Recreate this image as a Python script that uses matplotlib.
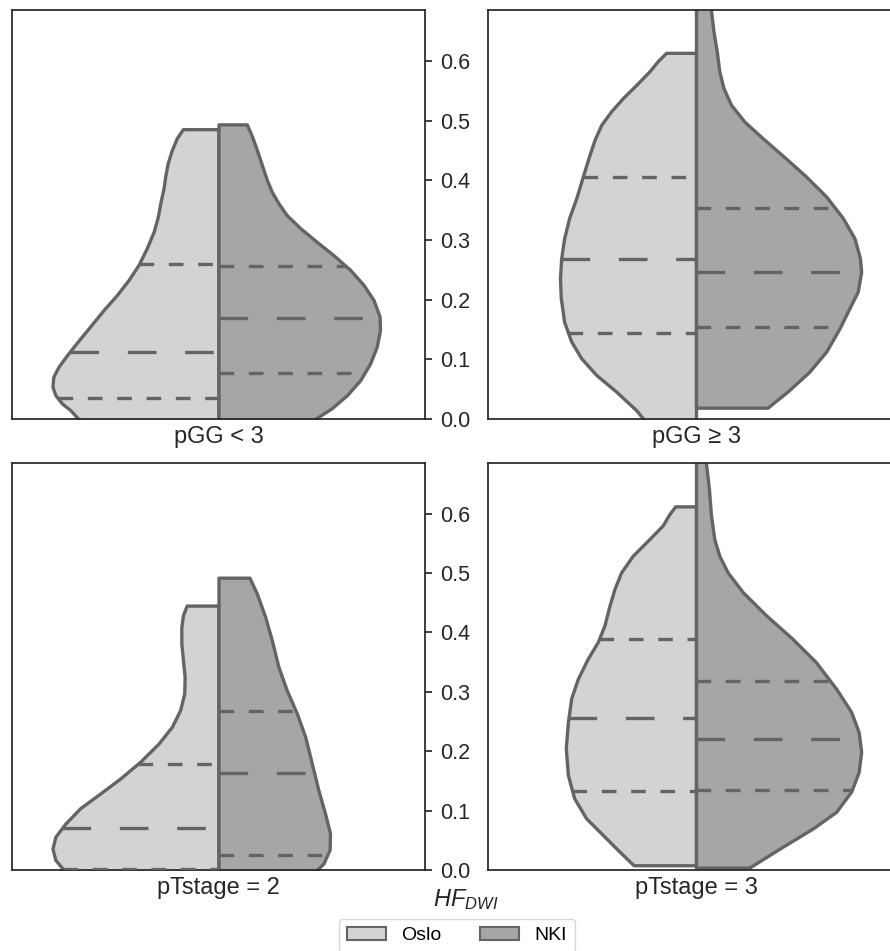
import matplotlib
matplotlib.use('Agg')
import matplotlib.pyplot as plt
from matplotlib.patches import Patch
import numpy as np

plt.rcParams['font.family'] = ['Liberation Sans', 'DejaVu Sans']
plt.rcParams['mathtext.fontset'] = 'custom'
plt.rcParams['mathtext.rm'] = 'Liberation Sans'
plt.rcParams['mathtext.it'] = 'Liberation Sans:italic'

# ---------------- data ----------------
groups = ['Oslo', 'NKI']
panel_labels = ['pGG < 3', 'pGG \u2265 3', 'pTstage = 2', 'pTstage = 3']
y_ticks = [0.0, 0.1, 0.2, 0.3, 0.4, 0.5, 0.6]
y_tick_labels = ['0.0', '0.1', '0.2', '0.3', '0.4', '0.5', '0.6']

# violin profiles: HF_DWI level and half-width of the density
tl_oslo_y = [-0.03, 0.0, 0.015, 0.026, 0.040, 0.054, 0.071, 0.088, 0.107, 0.128, 0.155, 0.183, 0.208, 0.233,
             0.258, 0.286, 0.314, 0.339, 0.365, 0.387, 0.407, 0.429, 0.451, 0.471, 0.486]
tl_oslo_w = [0.290, 0.339, 0.359, 0.379, 0.395, 0.402, 0.400, 0.387, 0.367, 0.343, 0.311, 0.278, 0.246, 0.218,
             0.194, 0.174, 0.157, 0.147, 0.140, 0.133, 0.129, 0.123, 0.113, 0.101, 0.0864]
tl_nki_y = [-0.03, 0.0, 0.018, 0.040, 0.065, 0.093, 0.121, 0.149, 0.172, 0.200, 0.225, 0.250, 0.275, 0.297,
            0.320, 0.342, 0.362, 0.381, 0.401, 0.426, 0.451, 0.474, 0.494]
tl_nki_w = [0.170, 0.234, 0.274, 0.311, 0.343, 0.367, 0.383, 0.391, 0.390, 0.375, 0.351, 0.319, 0.278, 0.238,
            0.198, 0.165, 0.145, 0.129, 0.117, 0.105, 0.093, 0.081, 0.0686]
tl_oslo_q = [0.035, 0.113, 0.260]
tl_nki_q = [0.077, 0.170, 0.257]

tr_oslo_y = [-0.03, -0.002, 0.015, 0.046, 0.074, 0.102, 0.130, 0.163, 0.203, 0.236, 0.270, 0.303, 0.337,
             0.370, 0.409, 0.443, 0.468, 0.493, 0.516, 0.538, 0.560, 0.583, 0.600, 0.614]
tr_oslo_w = [0.090, 0.124, 0.144, 0.192, 0.240, 0.276, 0.300, 0.317, 0.325, 0.327, 0.324, 0.317, 0.305,
             0.288, 0.271, 0.256, 0.244, 0.228, 0.204, 0.176, 0.144, 0.112, 0.092, 0.072]
tr_nki_y = [0.019, 0.046, 0.079, 0.113, 0.152, 0.186, 0.214, 0.247, 0.270, 0.303, 0.337, 0.373, 0.407,
            0.437, 0.471, 0.499, 0.527, 0.555, 0.583, 0.616, 0.650, 0.685, 0.730]
tr_nki_w = [0.172, 0.220, 0.272, 0.313, 0.345, 0.369, 0.389, 0.397, 0.394, 0.381, 0.353, 0.313, 0.264,
            0.216, 0.160, 0.116, 0.084, 0.066, 0.056, 0.050, 0.042, 0.036, 0.030]
tr_oslo_q = [0.145, 0.268, 0.406]
tr_nki_q = [0.155, 0.246, 0.353]

bl_oslo_y = [-0.03, -0.003, 0.017, 0.036, 0.056, 0.078, 0.104, 0.129, 0.154, 0.182, 0.213, 0.241, 0.269,
             0.297, 0.325, 0.353, 0.381, 0.409, 0.429, 0.445]
bl_oslo_w = [0.310, 0.371, 0.395, 0.402, 0.395, 0.371, 0.335, 0.286, 0.238, 0.190, 0.145, 0.113, 0.093,
             0.083, 0.082, 0.086, 0.090, 0.090, 0.086, 0.077]
bl_nki_y = [-0.03, -0.003, 0.011, 0.034, 0.062, 0.095, 0.134, 0.179, 0.224, 0.263, 0.303, 0.342, 0.387,
            0.426, 0.465, 0.492]
bl_nki_w = [0.210, 0.234, 0.254, 0.269, 0.270, 0.258, 0.242, 0.226, 0.210, 0.190, 0.165, 0.145, 0.129,
            0.113, 0.093, 0.075]
bl_oslo_q = [0.002, 0.070, 0.179]
bl_nki_q = [0.026, 0.164, 0.267]

br_oslo_y = [0.008, 0.031, 0.059, 0.087, 0.121, 0.160, 0.205, 0.249, 0.289, 0.322, 0.356, 0.384, 0.412,
             0.445, 0.473, 0.501, 0.529, 0.557, 0.580, 0.599, 0.612]
br_oslo_w = [0.150, 0.184, 0.224, 0.264, 0.293, 0.308, 0.313, 0.308, 0.300, 0.284, 0.260, 0.236, 0.220,
             0.208, 0.196, 0.180, 0.152, 0.112, 0.080, 0.064, 0.050]
br_nki_y = [0.004, 0.039, 0.070, 0.098, 0.132, 0.165, 0.199, 0.232, 0.266, 0.305, 0.350, 0.389, 0.429,
            0.468, 0.501, 0.529, 0.557, 0.597, 0.642, 0.684, 0.730]
br_nki_w = [0.128, 0.208, 0.281, 0.337, 0.373, 0.391, 0.397, 0.391, 0.373, 0.337, 0.288, 0.232, 0.168,
            0.112, 0.076, 0.056, 0.044, 0.036, 0.031, 0.024, 0.020]
br_oslo_q = [0.133, 0.255, 0.388]
br_nki_q = [0.134, 0.220, 0.318]

panels = [
    (tl_oslo_y, tl_oslo_w, tl_oslo_q, tl_nki_y, tl_nki_w, tl_nki_q),
    (tr_oslo_y, tr_oslo_w, tr_oslo_q, tr_nki_y, tr_nki_w, tr_nki_q),
    (bl_oslo_y, bl_oslo_w, bl_oslo_q, bl_nki_y, bl_nki_w, bl_nki_q),
    (br_oslo_y, br_oslo_w, br_oslo_q, br_nki_y, br_nki_w, br_nki_q),
]

# ---------------- style ----------------
OSLO_C = '#d3d3d3'
NKI_C = '#a6a6a6'
LINE_C = '#646464'
SPINE_C = '#262626'
LW = 2.4
Q_DASH = (4.4, 4.4)
MED_DASH = (8.6, 8.6)
YMAX = 0.685

W, H = 890, 951
fig = plt.figure(figsize=(W / 100, H / 100), dpi=100)

def px_axes(x0, x1, ytop, ybot):
    return fig.add_axes([x0 / W, 1 - ybot / H, (x1 - x0) / W, (ybot - ytop) / H])

axes = [
    px_axes(12, 425, 10.5, 419),
    px_axes(488, 904, 10.5, 419),
    px_axes(12, 425, 463, 870),
    px_axes(488, 904, 463, 870),
]

def draw_half(ax, y, w, q, side, color):
    y = np.asarray(y)
    w = np.asarray(w)
    ax.fill_betweenx(y, side * w, 0, facecolor=color, edgecolor=LINE_C,
                     linewidth=LW, joinstyle='round', zorder=2)
    for i, val in enumerate(q):
        half = np.interp(val, y, w)
        dash = MED_DASH if i == 1 else Q_DASH
        xs = [-half, 0] if side < 0 else [0, half]
        ax.plot(xs, [val, val], color=LINE_C, linewidth=LW, dashes=dash,
                dash_capstyle='butt', zorder=3)

for idx, (ax, p, lab) in enumerate(zip(axes, panels, panel_labels)):
    oy, ow, oq, ny, nw, nq = p
    draw_half(ax, oy, ow, oq, -1, OSLO_C)
    draw_half(ax, ny, nw, nq, 1, NKI_C)
    ax.set_xlim(-0.5, 0.5)
    ax.set_ylim(0, YMAX)
    ax.set_xticks([])
    ax.set_xlabel(lab, fontsize=17, color=SPINE_C, labelpad=5)
    for s in ax.spines.values():
        s.set_color(SPINE_C)
        s.set_linewidth(1.25)
    if idx % 2 == 0:
        ax.yaxis.tick_right()
        ax.set_yticks(y_ticks)
        ax.set_yticklabels(y_tick_labels)
        ax.tick_params(axis='y', labelsize=15.5, length=5, width=1.25,
                       color=SPINE_C, labelcolor=SPINE_C, pad=6)
    else:
        ax.set_yticks([])

fig.text(466 / W, 1 - 900 / H, r'$HF_{DWI}$', fontsize=17, color=SPINE_C,
         ha='center', va='center')

handles = [Patch(facecolor=OSLO_C, edgecolor=LINE_C, linewidth=1.5, label=groups[0]),
           Patch(facecolor=NKI_C, edgecolor=LINE_C, linewidth=1.5, label=groups[1])]
fig.legend(handles=handles, loc='upper center', ncol=2, fontsize=14,
           bbox_to_anchor=(457 / W, 1 - 919 / H), borderaxespad=0,
           frameon=True, columnspacing=2.0)

fig.savefig('out.png', dpi=100)
